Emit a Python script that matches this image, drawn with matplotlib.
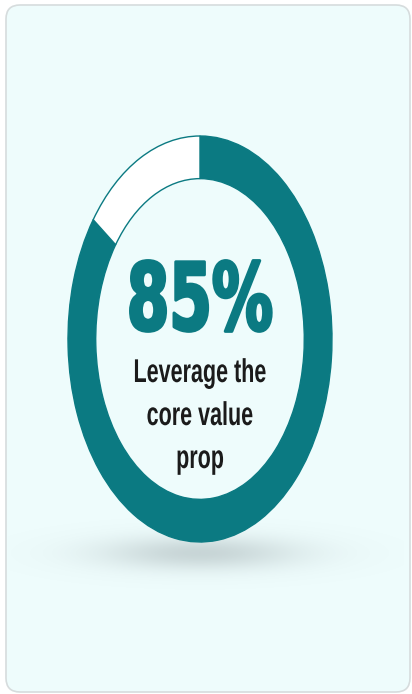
import numpy as np
import matplotlib
matplotlib.use("Agg")
import matplotlib.pyplot as plt
from matplotlib import patheffects
from matplotlib.patches import FancyBboxPatch
from matplotlib.transforms import Affine2D

# canvas size in pixels (dpi 100)
W, H = 412, 694

# ring split: highlighted share first, remainder second
shares = [85, 15]
ring_colors = ["#0b7a82", "#ffffff"]
caption_lines = ["Leverage the", "core value", "prop"]
caption_baselines = [382, 425, 468]

TEAL = "#0b7a82"
CARD = "#eefcfc"
SY = 1.53  # the card artwork is drawn tall, so glyphs get stretched too


class Tall(patheffects.AbstractPathEffect):
    """Stretch glyphs vertically around a baseline given in display pixels."""

    def __init__(self, y0, sy=SY, stroke=0.0):
        super().__init__()
        self.y0 = y0
        self.sy = sy
        self.stroke = stroke

    def draw_path(self, renderer, gc, tpath, affine, rgbFace=None):
        aff = affine + Affine2D().translate(0, -self.y0).scale(1, self.sy).translate(0, self.y0)
        if self.stroke and rgbFace is not None:
            gc2 = renderer.new_gc()
            gc2.copy_properties(gc)
            gc2.set_linewidth(self.stroke)
            gc2.set_foreground(rgbFace)
            gc2.set_joinstyle("round")
            renderer.draw_path(gc2, tpath, aff, rgbFace)
            gc2.restore()
        else:
            renderer.draw_path(gc, tpath, aff, rgbFace)


fig = plt.figure(figsize=(W / 100, H / 100), dpi=100)
fig.patch.set_facecolor("white")

ax = fig.add_axes([0, 0, 1, 1])
ax.set_xlim(0, W)
ax.set_ylim(H, 0)
ax.axis("off")

# card
card = FancyBboxPatch((6, 5), 404, 687, boxstyle="round,pad=0,rounding_size=14",
                      facecolor=CARD, edgecolor="#d6dcdd", linewidth=1.2, zorder=1)
ax.add_patch(card)

# soft shadow under the ring
x0, x1, y0, y1 = 8, 404, 500, 640
gy, gx = np.mgrid[y0:y1, x0:x1] + 0.5
r2 = ((gx - 200) / 100) ** 2 + ((gy - 553) / 17) ** 2
shadow = np.zeros(gx.shape + (4,))
shadow[..., :3] = (0.58, 0.63, 0.64)
shadow[..., 3] = 0.42 * np.exp(-r2)
ax.imshow(shadow, extent=(x0, x1, y1, y0), origin="upper", aspect="auto",
          interpolation="bilinear", zorder=2)
ax.set_xlim(0, W)
ax.set_ylim(H, 0)

# donut, laid out in its own axes so it can be drawn as a tall ellipse
cx, cy, rx, ry = 200, 339, 132, 203
pad = 1.05
dax = fig.add_axes([(cx - rx * pad) / W, (H - cy - ry * pad) / H,
                    2 * rx * pad / W, 2 * ry * pad / H])
dax.pie(shares, colors=ring_colors, startangle=90, counterclock=False, radius=1,
        wedgeprops=dict(width=0.21, edgecolor=TEAL, linewidth=1.0))
dax.set_aspect("auto")
dax.set_xlim(-pad, pad)
dax.set_ylim(-pad, pad)
dax.axis("off")
dax.patch.set_alpha(0)

# headline
ax.text(200, 330, f"{shares[0]}%", ha="center", va="baseline", fontsize=44,
        fontweight="bold", family="DejaVu Sans", color=TEAL, zorder=5,
        path_effects=[Tall(H - 330, stroke=2.2)])

# caption
for line, base in zip(caption_lines, caption_baselines):
    ax.text(200, base, line, ha="center", va="baseline", fontsize=15.5,
            fontweight="bold", family=["Liberation Sans", "DejaVu Sans"],
            color="#1b1b1b", zorder=5, path_effects=[Tall(H - base)])

fig.savefig("out.png", dpi=100, facecolor=fig.get_facecolor())
